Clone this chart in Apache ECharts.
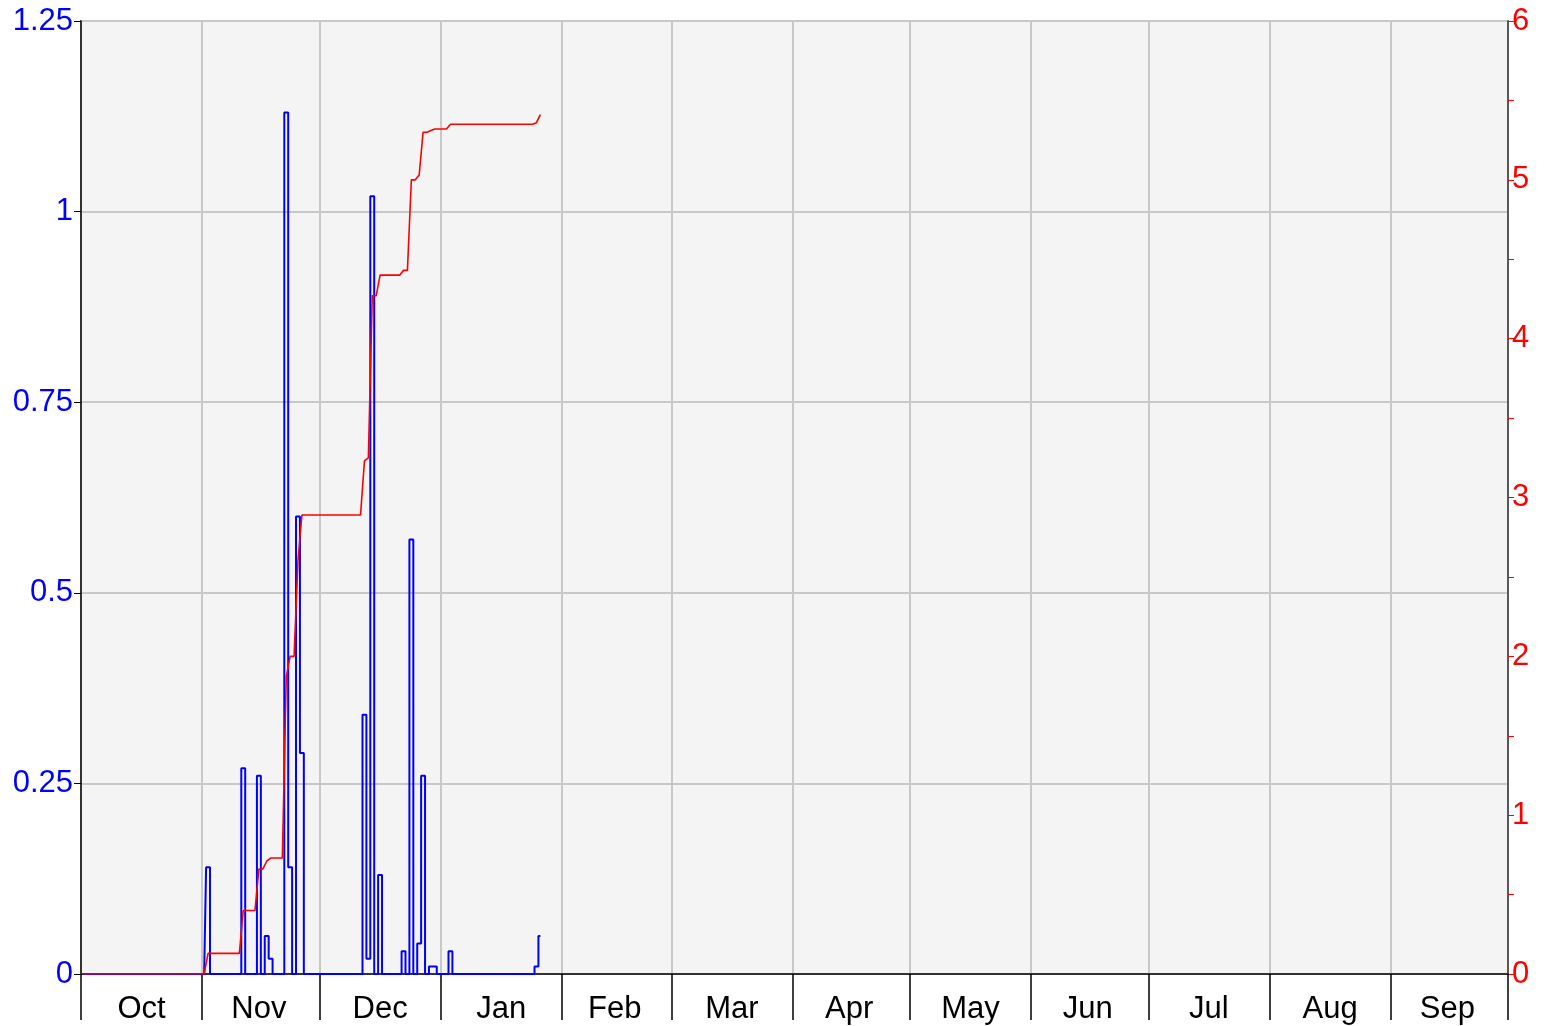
<!DOCTYPE html>
<html>
<head>
<meta charset="utf-8">
<script src="https://cdn.jsdelivr.net/npm/echarts@6/dist/echarts.min.js"></script>
<style>
  html, body { margin: 0; padding: 0; background: #fff; }
  #chart { width: 1544px; height: 1026px; }
</style>
</head>
<body>
<div id="chart"></div>
<script>
const months = ['Oct', 'Nov', 'Dec', 'Jan', 'Feb', 'Mar', 'Apr', 'May', 'Jun', 'Jul', 'Aug', 'Sep'];
const monthDays = [31, 30, 31, 31, 28, 31, 30, 31, 30, 31, 31, 30];

// daily precipitation (in), one value per day
const precipOct = [0, 0, 0, 0, 0, 0, 0, 0, 0, 0, 0, 0, 0, 0, 0, 0, 0, 0, 0, 0, 0, 0, 0, 0, 0, 0, 0, 0, 0, 0, 0];
const precipNov = [0, 0.14, 0, 0, 0, 0, 0, 0, 0, 0, 0.27, 0, 0, 0, 0.26, 0, 0.05, 0.02, 0, 0,
                   0, 1.13, 0.14, 0, 0.60, 0.29, 0, 0, 0, 0];
const precipDec = [0, 0, 0, 0, 0, 0, 0, 0, 0, 0, 0, 0.34, 0.02, 1.02, 0, 0.13, 0, 0, 0, 0,
                   0, 0.03, 0, 0.57, 0, 0.04, 0.26, 0, 0.01, 0.01, 0];
const precipJan = [0, 0, 0.03, 0, 0, 0, 0, 0, 0, 0, 0, 0, 0, 0, 0, 0, 0, 0, 0, 0,
                   0, 0, 0, 0, 0.01, 0.05];

// cumulative precipitation (in), [day index from Oct 1, value]
const cumulative = [
  [0, 0], [31, 0], [32, 0.13], [40, 0.13], [41, 0.40], [44, 0.40], [45, 0.66], [46, 0.66],
  [47, 0.71], [48, 0.73], [51, 0.73], [52, 1.87], [53, 2.00], [54, 2.00], [55, 2.60],
  [56, 2.89], [71, 2.89], [72, 3.23], [73, 3.25], [74, 4.27], [75, 4.27], [76, 4.40],
  [81, 4.40], [82, 4.43], [83, 4.43], [84, 5.00], [85, 5.00], [86, 5.03], [87, 5.30],
  [88, 5.30], [89, 5.31], [90, 5.32], [93, 5.32], [94, 5.35], [115, 5.35], [116, 5.36],
  [117, 5.41]
];

// day categories for the water year
const days = [];
const monthStart = {};
const monthMid = {};
months.forEach((m, i) => {
  monthStart[days.length] = true;
  monthMid[days.length + Math.floor((monthDays[i] - 1) / 2)] = true;
  for (let d = 1; d <= monthDays[i]; d++) days.push(m + ' ' + d);
});

const precip = precipOct.concat(precipNov, precipDec, precipJan);

const font = "'Liberation Sans', Arial, sans-serif";
const isStart = (i) => !!monthStart[i];
const chart = echarts.init(document.getElementById('chart'));

chart.setOption({
  animation: false,
  grid: {
    left: 81, right: 36, top: 21, bottom: 52,
    outerBoundsMode: 'none',
    show: true,
    backgroundColor: '#f4f4f4',
    borderColor: '#333',
    borderWidth: 1.5
  },
  xAxis: [
    {
      type: 'category',
      data: days,
      boundaryGap: true,
      axisLine: { show: true, lineStyle: { color: '#000', width: 1.5 } },
      axisTick: {
        show: true,
        interval: isStart,
        length: 46,
        lineStyle: { color: '#000', width: 1.5 }
      },
      axisLabel: {
        show: true,
        interval: (i) => !!monthMid[i],
        formatter: (v) => v.split(' ')[0],
        color: '#000',
        fontFamily: font,
        fontSize: 31,
        margin: 20
      },
      splitLine: {
        show: true,
        interval: isStart,
        lineStyle: { color: '#c8c8c8', width: 2 }
      }
    },
    {
      // dark top edge of the plot
      type: 'category',
      data: days,
      position: 'top',
      axisLine: { show: true, lineStyle: { color: '#333', width: 2 } },
      axisTick: { show: false },
      axisLabel: { show: false },
      splitLine: { show: false }
    }
  ],
  yAxis: [
    {
      type: 'value',
      min: 0, max: 1.25, interval: 0.25,
      position: 'left',
      axisLine: { show: true, lineStyle: { color: '#000', width: 1.5 } },
      axisTick: { show: true, length: 7, lineStyle: { color: '#000' } },
      axisLabel: { color: '#0000ff', fontFamily: font, fontSize: 31, margin: 8 },
      splitLine: { show: true, lineStyle: { color: '#c8c8c8', width: 2 } }
    },
    {
      type: 'value',
      min: 0, max: 6, interval: 1,
      position: 'right',
      axisLine: { show: true, lineStyle: { color: '#333', width: 1.5 } },
      axisTick: { show: true, length: 6, lineStyle: { color: '#ff0000' } },
      minorTick: { show: true, splitNumber: 2, length: 6, lineStyle: { color: '#ff0000' } },
      axisLabel: { color: '#ff0000', fontFamily: font, fontSize: 31, margin: 4 },
      splitLine: { show: false }
    }
  ],
  series: [
    {
      name: 'Daily',
      type: 'line',
      step: 'middle',
      yAxisIndex: 0,
      data: precip,
      symbol: 'none',
      lineStyle: { color: '#0000ff', width: 2 },
      z: 2
    },
    {
      name: 'Cumulative',
      type: 'line',
      yAxisIndex: 1,
      data: cumulative,
      symbol: 'none',
      lineStyle: { color: '#ff0000', width: 1.6 },
      z: 3
    }
  ]
});
</script>
</body>
</html>
